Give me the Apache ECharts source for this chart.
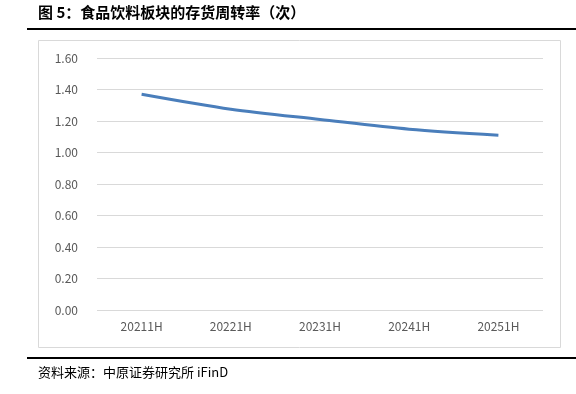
<!DOCTYPE html>
<html><head><meta charset="utf-8">
<script src="https://cdn.jsdelivr.net/npm/echarts@6/dist/echarts.min.js"></script>
<style>html,body{margin:0;padding:0;background:#fff}#c{width:576px;height:394px}</style>
</head><body><div id="c"></div>
<script>
const categories = ['20211H','20221H','20231H','20241H','20251H'];
const turnover = [1.37, 1.275, 1.21, 1.148, 1.11];
const yTicks = [0, 0.2, 0.4, 0.6, 0.8, 1.0, 1.2, 1.4, 1.6];

const chart = echarts.init(document.getElementById('c'));
chart.setOption({
  animation: false,
  grid: {left: 97, right: 33, top: 58, bottom: 84},
  graphic: [
    {type:'text', left: 38, top: 5, style:{text:'图 5：食品饮料板块的存货周转率（次）', font:'bold 15px "Noto Sans CJK SC"', fill:'#000'}},
    {type:'rect', shape:{x:27, y:28, width:549, height:2}, style:{fill:'#000'}},
    {type:'rect', shape:{x:38.5, y:40.5, width:522, height:307}, style:{fill:'none', stroke:'#d9d9d9', lineWidth:1}, z:-1},
    {type:'rect', shape:{x:27, y:357, width:549, height:2}, style:{fill:'#000'}},
    {type:'text', left: 38, top: 366, style:{text:'资料来源：中原证券研究所 iFinD', font:'13px "Noto Sans CJK SC"', fill:'#000'}}
  ],
  xAxis: {
    type:'category', data: categories, boundaryGap:true,
    axisLine:{show:false}, axisTick:{show:false},
    axisLabel:{color:'#595959', fontSize:12, fontFamily:'"Noto Sans CJK SC"', margin:10}
  },
  yAxis: {
    type:'value', min:0, max:1.6, interval:0.2,
    axisLine:{show:false}, axisTick:{show:false},
    axisLabel:{color:'#595959', fontSize:12, fontFamily:'"Noto Sans CJK SC"', margin:19,
      formatter: v => v.toFixed(2)},
    splitLine:{lineStyle:{color:'#d9d9d9', width:1}}
  },
  series: [{
    type:'line', data: turnover, smooth:0.3, showSymbol:false,
    lineStyle:{color:'#4a7ebb', width:3}
  }]
});
</script></body></html>
